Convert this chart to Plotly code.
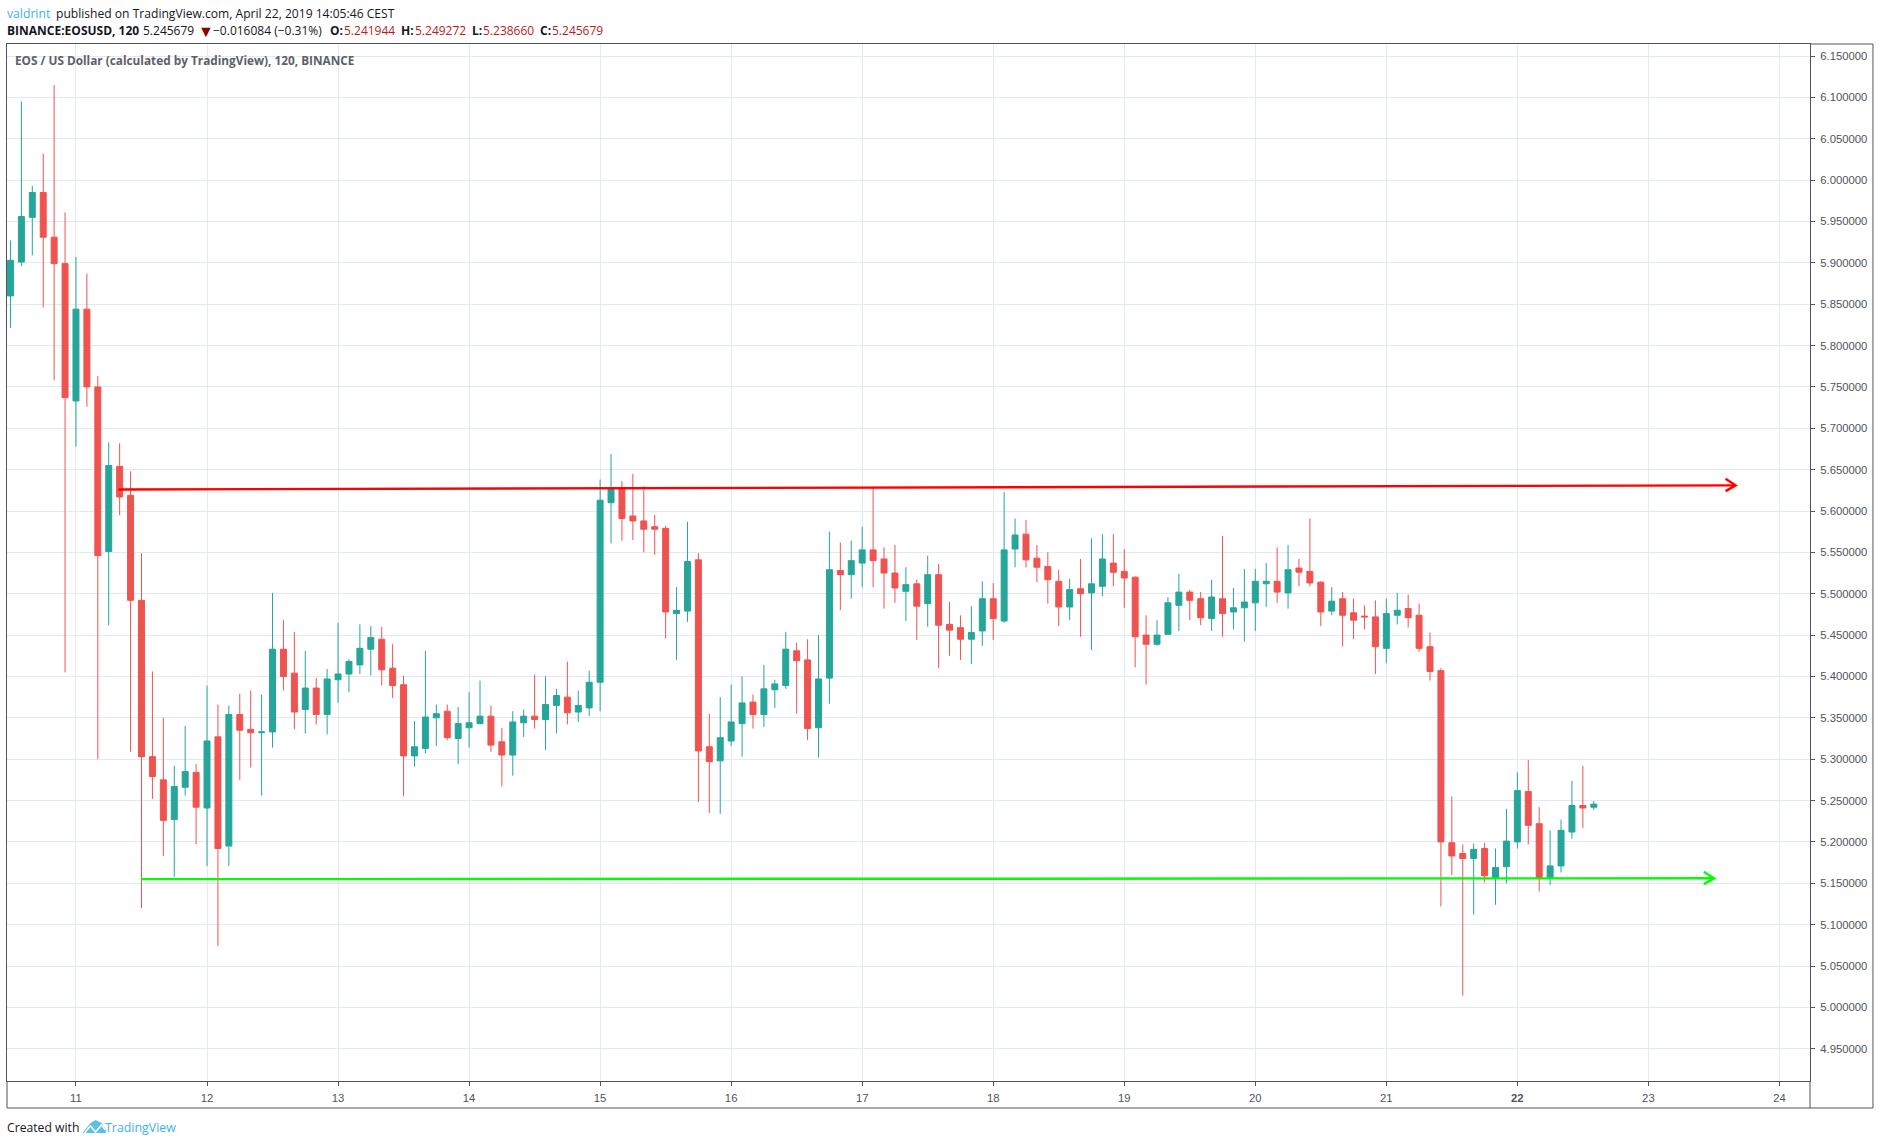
import pandas as pd
import plotly.graph_objects as go

W, H = 1880, 1145
LEFT, RIGHT, TOP, BOTTOM = 6.5, 1810, 43.5, 1081
FRAME_R, FRAME_B = 1873, 1108

opens = [5.860, 5.901, 5.955, 5.985, 5.931, 5.899, 5.733, 5.844, 5.750, 5.551, 5.654, 5.619,
         5.492, 5.303, 5.275, 5.227, 5.266, 5.284, 5.241, 5.327, 5.195, 5.354, 5.336, 5.332,
         5.333, 5.433, 5.404, 5.360, 5.386, 5.354, 5.396, 5.403, 5.414, 5.433, 5.445, 5.410,
         5.390, 5.304, 5.313, 5.350, 5.358, 5.325, 5.338, 5.343, 5.352, 5.321, 5.305, 5.344,
         5.352, 5.348, 5.365, 5.375, 5.357, 5.362, 5.393, 5.610, 5.628, 5.594, 5.588, 5.581,
         5.579, 5.476, 5.479, 5.541, 5.315, 5.298, 5.322, 5.343, 5.369, 5.354, 5.384, 5.389,
         5.431, 5.420, 5.338, 5.398, 5.528, 5.523, 5.537, 5.553, 5.542, 5.525, 5.503, 5.512,
         5.488, 5.523, 5.463, 5.459, 5.445, 5.455, 5.494, 5.467, 5.554, 5.572, 5.543, 5.533,
         5.515, 5.484, 5.506, 5.501, 5.509, 5.537, 5.527, 5.520, 5.450, 5.439, 5.451, 5.486,
         5.502, 5.494, 5.470, 5.494, 5.478, 5.483, 5.489, 5.512, 5.515, 5.501, 5.531, 5.527,
         5.514, 5.479, 5.494, 5.477, 5.473, 5.472, 5.434, 5.474, 5.482, 5.474, 5.436, 5.407,
         5.199, 5.186, 5.180, 5.192, 5.157, 5.170, 5.200, 5.261, 5.222, 5.157, 5.171, 5.212,
         5.244, 5.241944]
highs = [5.927, 6.095, 5.993, 6.032, 6.115, 5.961, 5.907, 5.887, 5.763, 5.683, 5.682, 5.648,
         5.549, 5.406, 5.350, 5.292, 5.340, 5.294, 5.389, 5.366, 5.365, 5.379, 5.383, 5.378,
         5.501, 5.468, 5.454, 5.431, 5.398, 5.409, 5.465, 5.421, 5.463, 5.461, 5.460, 5.439,
         5.401, 5.346, 5.431, 5.366, 5.366, 5.363, 5.381, 5.395, 5.365, 5.338, 5.358, 5.360,
         5.402, 5.400, 5.385, 5.418, 5.383, 5.407, 5.638, 5.669, 5.636, 5.645, 5.630, 5.595,
         5.582, 5.508, 5.587, 5.549, 5.355, 5.375, 5.390, 5.400, 5.378, 5.414, 5.396, 5.454,
         5.441, 5.445, 5.450, 5.575, 5.562, 5.564, 5.581, 5.629, 5.556, 5.559, 5.532, 5.517,
         5.546, 5.536, 5.490, 5.474, 5.485, 5.515, 5.513, 5.623, 5.591, 5.589, 5.559, 5.550,
         5.529, 5.518, 5.542, 5.567, 5.572, 5.572, 5.554, 5.521, 5.474, 5.468, 5.496, 5.524,
         5.505, 5.502, 5.517, 5.570, 5.507, 5.530, 5.530, 5.537, 5.556, 5.559, 5.542, 5.591,
         5.515, 5.508, 5.502, 5.494, 5.486, 5.492, 5.494, 5.501, 5.499, 5.488, 5.453, 5.410,
         5.255, 5.197, 5.198, 5.199, 5.192, 5.240, 5.284, 5.299, 5.242, 5.214, 5.227, 5.274,
         5.292, 5.249272]
lows = [5.821, 5.896, 5.909, 5.846, 5.758, 5.405, 5.678, 5.726, 5.300, 5.462, 5.595, 5.309,
        5.120, 5.252, 5.183, 5.158, 5.256, 5.197, 5.171, 5.074, 5.171, 5.275, 5.290, 5.256,
        5.314, 5.383, 5.336, 5.331, 5.342, 5.330, 5.368, 5.381, 5.403, 5.401, 5.389, 5.374,
        5.255, 5.291, 5.307, 5.316, 5.323, 5.294, 5.314, 5.342, 5.309, 5.267, 5.280, 5.327,
        5.337, 5.311, 5.331, 5.342, 5.345, 5.352, 5.358, 5.561, 5.564, 5.565, 5.550, 5.547,
        5.446, 5.420, 5.466, 5.248, 5.235, 5.234, 5.316, 5.303, 5.337, 5.339, 5.362, 5.385,
        5.355, 5.323, 5.302, 5.367, 5.480, 5.494, 5.508, 5.508, 5.482, 5.489, 5.467, 5.444,
        5.460, 5.410, 5.425, 5.420, 5.415, 5.437, 5.444, 5.465, 5.532, 5.532, 5.514, 5.488,
        5.461, 5.468, 5.448, 5.432, 5.497, 5.509, 5.483, 5.411, 5.390, 5.437, 5.451, 5.455,
        5.468, 5.462, 5.455, 5.448, 5.457, 5.442, 5.455, 5.484, 5.489, 5.482, 5.509, 5.509,
        5.461, 5.474, 5.436, 5.445, 5.457, 5.403, 5.416, 5.463, 5.459, 5.430, 5.395, 5.122,
        5.160, 5.014, 5.112, 5.151, 5.124, 5.150, 5.192, 5.197, 5.140, 5.148, 5.163, 5.204,
        5.217, 5.238660]
closes = [5.903, 5.956, 5.985, 5.931, 5.899, 5.737, 5.844, 5.750, 5.546, 5.655, 5.617, 5.492,
          5.303, 5.279, 5.226, 5.267, 5.285, 5.242, 5.322, 5.192, 5.354, 5.335, 5.332, 5.333,
          5.433, 5.400, 5.357, 5.386, 5.354, 5.397, 5.403, 5.418, 5.434, 5.447, 5.408, 5.389,
          5.304, 5.315, 5.351, 5.355, 5.326, 5.343, 5.344, 5.352, 5.317, 5.305, 5.345, 5.352,
          5.348, 5.366, 5.377, 5.356, 5.365, 5.393, 5.613, 5.627, 5.591, 5.588, 5.578, 5.578,
          5.478, 5.480, 5.539, 5.310, 5.297, 5.326, 5.345, 5.368, 5.354, 5.385, 5.391, 5.433,
          5.419, 5.337, 5.397, 5.529, 5.523, 5.540, 5.553, 5.540, 5.525, 5.507, 5.511, 5.485,
          5.523, 5.462, 5.456, 5.445, 5.453, 5.494, 5.470, 5.553, 5.571, 5.541, 5.532, 5.517,
          5.484, 5.505, 5.500, 5.512, 5.542, 5.526, 5.519, 5.448, 5.439, 5.450, 5.489, 5.502,
          5.492, 5.471, 5.496, 5.476, 5.483, 5.490, 5.515, 5.515, 5.502, 5.529, 5.526, 5.513,
          5.478, 5.491, 5.474, 5.468, 5.472, 5.436, 5.476, 5.480, 5.471, 5.434, 5.406, 5.200,
          5.183, 5.180, 5.191, 5.159, 5.169, 5.201, 5.262, 5.220, 5.157, 5.171, 5.214, 5.244,
          5.241, 5.245679]

bar_times = pd.date_range("2019-04-10 12:00", periods=len(opens), freq="2h")

day_dates = ["2019-04-%02d" % d for d in range(11, 25)]
day_labels = ["11", "12", "13", "14", "15", "16", "17", "18", "19", "20", "21", "<b>22</b>", "23", "24"]
price_ticks = [4.95 + 0.05 * i for i in range(25)]
price_labels = ["%.6f" % p for p in price_ticks]

# hand drawn trend lines with open arrow heads
red_x = ["2019-04-11 07:47", "2019-04-23 15:58"]
red_y = [5.626, 5.631]
red_head_x = ["2019-04-23 14:08", "2019-04-23 15:58", "2019-04-23 14:08"]
red_head_y = [5.639, 5.631, 5.624]
green_x = ["2019-04-11 11:53", "2019-04-23 12:02"]
green_y = [5.155, 5.156]
green_head_x = ["2019-04-23 10:09", "2019-04-23 12:02", "2019-04-23 10:09"]
green_head_y = [5.164, 5.156, 5.149]

TEAL = "#26a69a"
RED = "#ef5350"
GRID = "#e0eaf0"
BORDER = "#50535e"
BLUE = "#3bb3e4"
FONT = "Open Sans"


def px_x(v):
    return (v - LEFT) / (RIGHT - LEFT)


def px_y(v):
    return (BOTTOM - v) / (BOTTOM - TOP)


fig = go.Figure()
fig.add_trace(go.Candlestick(
    x=bar_times, open=opens, high=highs, low=lows, close=closes,
    increasing=dict(line=dict(color=TEAL, width=1), fillcolor=TEAL),
    decreasing=dict(line=dict(color=RED, width=1), fillcolor=RED),
    whiskerwidth=0, showlegend=False,
))
for xs, ys, col in [(red_x, red_y, "#ff0000"), (red_head_x, red_head_y, "#ff0000"),
                    (green_x, green_y, "#00ff00"), (green_head_x, green_head_y, "#00ff00")]:
    fig.add_trace(go.Scatter(x=xs, y=ys, mode="lines", line=dict(color=col, width=2.4), showlegend=False))

fig.update_layout(
    width=W, height=H, autosize=False,
    margin=dict(l=LEFT, r=W - RIGHT, t=TOP, b=H - BOTTOM, pad=0),
    paper_bgcolor="white", plot_bgcolor="white",
    boxgap=0.22,
    font=dict(family=FONT, size=11, color=BORDER),
    xaxis=dict(
        type="date", range=["2019-04-10 11:22", "2019-04-24 05:36"],
        rangeslider=dict(visible=False),
        tickmode="array", tickvals=day_dates, ticktext=day_labels,
        showgrid=True, gridcolor=GRID, gridwidth=1, zeroline=False,
        showline=True, linecolor=BORDER, linewidth=1, mirror=True,
        ticks="outside", ticklen=4, tickcolor=BORDER, tickwidth=1,
        tickfont=dict(family="Liberation Sans", size=11.3, color=BORDER),
        ticklabelstandoff=2,
    ),
    yaxis=dict(
        side="right", range=[4.911, 6.1645],
        tickmode="array", tickvals=price_ticks, ticktext=price_labels,
        showgrid=True, gridcolor=GRID, gridwidth=1, zeroline=False,
        showline=True, linecolor=BORDER, linewidth=1, mirror=True,
        ticks="outside", ticklen=4, tickcolor=BORDER, tickwidth=1,
        tickfont=dict(family="Liberation Sans", size=11.3, color=BORDER),
        ticklabelstandoff=3,
    ),
)

# outer frame around both axis bands
frame = [(LEFT, BOTTOM, LEFT, FRAME_B), (LEFT, FRAME_B, FRAME_R, FRAME_B),
         (FRAME_R, FRAME_B, FRAME_R, TOP), (RIGHT, TOP, FRAME_R, TOP), (RIGHT, BOTTOM, RIGHT, FRAME_B)]
for x0, y0, x1, y1 in frame:
    fig.add_shape(type="line", xref="paper", yref="paper", x0=px_x(x0), y0=px_y(y0), x1=px_x(x1), y1=px_y(y1),
                  line=dict(color=BORDER, width=1))

# texts: (x, y, text, colour, size)
dark_red = "#b71c1c"
texts = [
    (6, 13, "valdrint", BLUE, 12.2),
    (56, 13, "published on TradingView.com, April 22, 2019 14:05:46 CEST", "#131722", 12.1),
    (6, 30, "<b>BINANCE:EOSUSD, 120</b>", "#131722", 12),
    (143, 30, "5.245679", "#131722", 12),
    (198, 30, "▼", "#8b0000", 16),
    (213, 30, "−0.016084 (−0.31%)", "#131722", 12),
    (330, 30, "<b>O:</b>", "#131722", 12),
    (344, 30, "5.241944", dark_red, 12),
    (401, 30, "<b>H:</b>", "#131722", 12),
    (415, 30, "5.249272", dark_red, 12),
    (472, 30, "<b>L:</b>", "#131722", 12),
    (483, 30, "5.238660", dark_red, 12),
    (540, 30, "<b>C:</b>", "#131722", 12),
    (552, 30, "5.245679", dark_red, 12),
    (15, 60, "<b>EOS / US Dollar (calculated by TradingView), 120, BINANCE</b>", "#5d606b", 11.8),
    (6, 1127.5, "Created with", "#131722", 12.2),
    (105, 1127.5, "TradingView", BLUE, 12.4),
]
for x, y, t, col, size in texts:
    fig.add_annotation(text=t, xref="paper", yref="paper", x=px_x(x), y=px_y(y),
                       xanchor="left", yanchor="middle", showarrow=False,
                       borderpad=0, borderwidth=0, align="left",
                       font=dict(family=FONT, size=size, color=col))

# little cloud logo next to TradingView
cloud = [(82, 1133), (90, 1123), (95, 1120), (101, 1123), (106, 1130), (105, 1133)]
zigzag = [(84, 1133), (90, 1126), (95, 1132), (101, 1125), (105, 1130)]
cloud_path = "M" + "L".join("%f,%f" % (px_x(a), px_y(b)) for a, b in cloud) + "Z"
zig_path = "M" + "L".join("%f,%f" % (px_x(a), px_y(b)) for a, b in zigzag)
fig.add_shape(type="path", xref="paper", yref="paper", path=cloud_path, fillcolor="#5bc0e8", line=dict(width=0))
fig.add_shape(type="path", xref="paper", yref="paper", path=zig_path, line=dict(color="white", width=1.5))

# default page keeps an 8px body margin, the chart has to sit at the page corner
fig.write_html("out.html", config=dict(displayModeBar=False),
               post_script="document.body.style.margin='0';document.body.style.overflow='hidden';")
